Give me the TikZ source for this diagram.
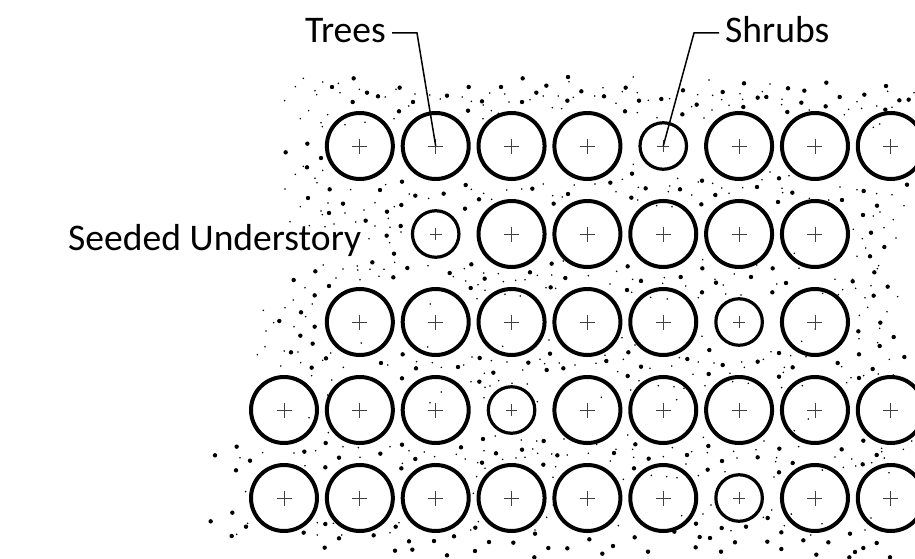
\documentclass[tikz,border=0pt]{standalone}
\usepackage{fontspec}
\setmainfont{Carlito}

% scattered seed marks, read off in thirds of a pixel from a corner
\newcommand{\seedpatch}[4]{%
  \foreach \u/\v in {#3} \fill ({#1+\u/3},{#2+\v/3}) circle (2.2);
  \foreach \u/\v in {#4} \fill ({#1+\u/3},{#2+\v/3}) circle (0.9);
}

\begin{document}
\begin{tikzpicture}[x=1pt,y=-1pt,
    tree/.style={circle,draw,line width=4pt,minimum size=66pt,inner sep=0pt,outer sep=0pt,
      path picture={\draw[line width=0.9pt,black!75] (path picture bounding box.center) +(-7.5,0) -- +(7.5,0) +(0,-7.5) -- +(0,7.5);}},
    shrub/.style={circle,draw,line width=3.2pt,minimum size=46.5pt,inner sep=0pt,outer sep=0pt,
      path picture={\draw[line width=0.9pt,black!75] (path picture bounding box.center) +(-5.8,0) -- +(5.8,0) +(0,-5.8) -- +(0,5.8);}},
    leader/.style={draw,line width=1.5pt},
    plant label/.style={font=\fontsize{37.6}{44}\selectfont,inner xsep=6pt,inner ysep=0pt}]
  \useasboundingbox (0,0) rectangle (915,559);
  \clip (0,0) rectangle (915,559);

  % seeded understory
  \seedpatch{280}{0}
    {221/235,156/261,261/278,294/289,359/263,218/306,399/306,357/334,82/431,17/457,123/474,81/502,501/287,566/261,663/261,606/304,564/332,728/235,769/278,799/257,726/306,864/231,904/274,862/302}
    {70/235,46/260,128/246,175/250,105/272,110/284,180/278,238/268,316/291,348/268,405/282,386/318,14/302,86/332,61/356,143/344,123/368,127/380,195/374,255/367,342/356,449/285,481/297,547/291,574/304,629/279,674/282,687/306,750/299,790/288,835/288,880/292,867/245,944/288,817/323,845/326,634/332,609/356,610/315,655/340,46/523,70/499,128/511,105/535}
  \seedpatch{600}{0}
    {77/263,12/289,117/302,184/297,249/271,75/334,247/343,290/314,368/276,432/250,473/293,499/291,430/321,564/265,613/272,604/308,562/336,679/248,719/291,677/319,793/284,858/258,898/301,926/299,856/329,96/521,31/548,137/565,240/568,306/542,346/585,304/613,471/561,537/535,577/578,534/606,726/600,791/573,921/554,831/617,789/645,813/698,853/741,810/769,94/593,83/799,242/831,307/805,453/831,518/805,823/817}
    {100/231,9/263,112/278,145/301,209/296,112/338,171/353,48/310,67/275,293/284,338/286,327/240,365/299,420/281,428/298,510/252,487/275,546/298,545/314,336/330,312/354,275/320,387/316,628/330,733/344,746/328,785/325,771/305,830/318,876/322,863/274,942/278,839/372,820/382,100/493,67/538,48/575,115/562,209/558,205/575,233/535,295/546,275/585,338/550,365/564,387/580,428/563,486/539,510/516,567/527,546/565,548/578,628/595,720/561,771/569,830/581,876/584,686/600,912/617,820/648,840/636,880/659,760/688,852/683,888/714,787/716,797/744,771/769,836/797,832/806,113/600,170/617,216/620,583/760,308/779,470/795,597/805,705/838,758/838,345/838,403/822,193/833,123/838,98/838,50/814}
  \seedpatch{240}{180}
    {204/54,269/28,309/71,267/99,420/30,486/5,441/95,484/75,377/122,526/47,611/41,677/15,717/58,675/86,877/26,941/71,984/42,482/138,440/167,462/221,397/247,226/274,161/300,267/318,224/346,460/292,502/264,694/253,629/279,734/296,870/277,935/251,976/294,692/324,932/322,183/397,118/423,224/440,181/467,218/491,153/517,258/535,215/563,488/523,423/549,528/565,654/561,719/534,865/548,930/521,970/565}
    {571/372,135/27,181/80,231/8,332/29,264/69,243/93,247/104,315/99,405/68,463/80,437/14,508/42,566/55,694/28,731/40,755/58,845/27,910/12,938/47,967/51,1003/15,800/30,150/125,208/137,255/140,282/132,347/126,372/90,405/138,445/115,450/142,483/156,387/176,449/188,250/255,309/267,352/258,353/270,390/268,432/268,417/289,360/299,288/294,464/247,564/257,673/266,640/290,677/303,714/314,731/279,775/281,790/305,827/301,855/299,892/286,935/285,735/331,711/356,918/323,947/325,970/243,195/323,217/372,160/360,135/383,70/391,197/410,101/428,162/440,78/453,75/500,52/524,133/513,174/516,122/558,182/548,272/519,248/541,310/562,364/489,563/501,788/499,795/343,841/348,927/480,530/545,577/548,604/562,671/555,696/531,754/542,801/546,900/538,914/551,958/549,443/555}
  \seedpatch{200}{360}
    {606/55,880/38,838/65,377/249,110/260,45/286,150/302,108/331,313/275,417/293,541/281,606/254,646/297,604/325,376/322,783/262,849/237,888/280,846/308,966/269,1031/243,1030/314,97/458,32/484,138/500,95/528,311/518,376/492,417/535,521/526,587/500,627/544,585/572,637/569,702/543,741/586,762/529,826/503,867/546,825/573,940/548,1005/521,1003/592,1045/564,374/563,1040/30}
    {188/278,282/279,347/272,335/47,395/60,383/105,385/218,327/173,724/96,690/128,813/65,853/40,896/62,870/78,852/113,855/82,936/70,982/72,968/30,1012/125,886/228,964/240,1010/243,998/267,1013/280,948/294,975/292,908/298,830/350,855/325,833/308,820/400,704/290,673/276,627/272,570/260,475/263,429/260,480/292,769/283,796/297,852/272,137/395,120/293,315/317,352/488,400/490,352/525,425/525,570/518,597/488,143/490,110/523,812/510,835/485,1005/510,1040/472,607/310}
  \seedpatch{550}{360}
    {233/48,476/42,687/50,927/54,256/253,192/279,22/286,296/296,475/258,516/303,623/292,688/266,875/268,980/285,940/242,411/285,252/325,473/329,687/337,728/309,938/313,438/491,373/515,653/474,588/500,515/504,254/532,118/538,52/565,189/558,157/581,294/575,449/531,480/534,437/562,555/547,513/575,652/545,694/517,694/567,760/541,835/547,799/584,900/521,980/549,940/564,915/576,898/592,1020/592,169/3,273/20,518/15,623/5,728/22,863/9,968/27}
    {775/177,154/112,380/119,203/35,267/62,429/43,540/40,548/65,595/70,700/37,890/68,903/53,325/77,372/80,402/85,465/77,242/90,757/77,695/83,941/47,985/42,1030/45,233/225,42/237,140/253,367/263,460/232,642/243,733/212,248/268,251/292,340/290,5/282,52/285,115/280,198/268,181/303,17/320,9/352,10/435,220/358,304/346,350/350,381/353,445/347,408/312,425/275,472/278,551/274,561/294,618/269,677/305,680/293,672/351,746/260,855/291,905/297,880/322,917/318,965/308,1003/294,995/265,995/275,1060/268,817/330,1017/338,665/450,525/335,483/435,459/462,395/467,205/497,782/525,816/491,724/462,703/497,963/474,945/510,543/512,1085/243,640/472,920/150,75/15,138/10,300/25,365/18,445/6,492/9,575/6,583/22,703/22,875/20}
  \seedpatch{580}{280}
    {141/30,183/3,366/37,408/8,577/37,618/9,818/4,881/47,923/20,901/128,835/154,941/171,899/198,388/210,145/217,322/237,597/219,837/223,973/231}
    {706/147,90/12,155/37,248/10,317/18,355/53,430/15,437/42,483/45,590/12,212/52,262/57,728/40,775/44,788/29,827/25,855/53,873/17,953/50,863/82,838/106,921/95,899/145,837/176,893/188,928/238,366/169,126/173,165/195,665/184,573/215,632/227,678/230,75/226,130/238,298/233,550/238}
  \seedpatch{560}{180}{}{105/12,85/287}

  % planting rows
  \foreach \r/\cols in {1/{2,3,4,5,7,8,9},2/{4,5,6,7,8},3/{2,3,4,5,6,8},4/{1,2,3,5,6,7,8,9},5/{1,2,3,4,5,6,8,9}}
    \foreach \c in \cols
      \node[tree] (tree\r\c) at ({284+75.85*(\c-1)},{146+88*(\r-1)}) {};
  \foreach \r/\c in {1/6,2/3,3/7,4/4,5/7}
    \node[shrub] (shrub\r\c) at ({284+75.85*(\c-1)},{146+88*(\r-1)}) {};

  % labels
  \node[plant label,anchor=base east] (treeslabel) at (392,43) {Trees};
  \node[plant label,anchor=base west] (shrubslabel) at (719,43) {Shrubs};
  \node[plant label,anchor=base west] (seededlabel) at (62,250) {Seeded Understory};

  \coordinate (treesbend) at (417,33);
  \coordinate (shrubsbend) at (694,33);
  \draw[leader] (treeslabel.east |- treesbend) -- (treesbend) -- (tree13.center);
  \draw[leader] (shrubslabel.west |- shrubsbend) -- (shrubsbend) -- (shrub16.center);
\end{tikzpicture}
\end{document}
